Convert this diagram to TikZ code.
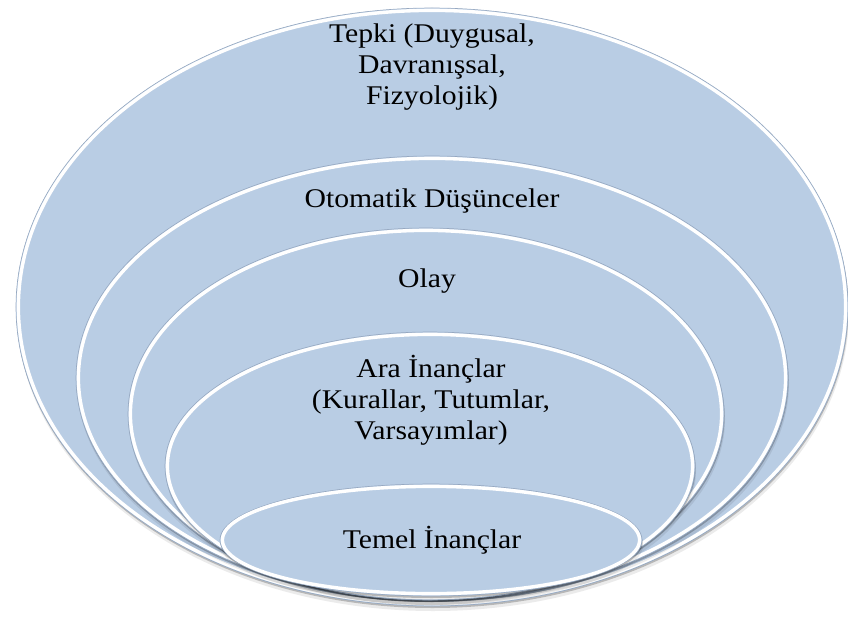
\documentclass[tikz,border=0pt]{standalone}
\usepackage{fontspec}
\newfontfamily\lblfont{Liberation Serif}[FakeStretch=1.1]
\definecolor{lblue}{RGB}{185,205,228}
\definecolor{edgecol}{RGB}{150,168,192}
\newcommand\ringshape[4]{%
  \fill[black,opacity=0.08] (#1+1,#2+5) ellipse [x radius=#3bp, y radius=#4bp];
  \fill[black,opacity=0.22] (#1+0.5,#2+2) ellipse [x radius=#3bp, y radius=#4bp];
  \fill[lblue] (#1,#2) ellipse [x radius=#3bp, y radius=#4bp];
  \draw[edgecol, line width=0.6bp] (#1,#2) ellipse [x radius=#3bp, y radius=#4bp];
  \draw[white, line width=3.4bp] (#1,#2) ellipse [x radius=#3bp-2.4bp, y radius=#4bp-2.4bp];
}
\begin{document}
\begin{tikzpicture}[x=1bp,y=-1bp,
  lbl/.style={font=\lblfont\fontsize{27bp}{31bp}\selectfont, align=center, inner sep=0pt, anchor=base, text=black}]
\useasboundingbox (0,0) rectangle (848,618);
\ringshape{432}{307}{416}{299}
\ringshape{432}{378}{356}{222}
\ringshape{426}{414}{298}{186}
\ringshape{430}{466}{265}{134}
\ringshape{431}{540}{211}{56}
\node[lbl] (tepki) at (432,105) {Tepki (Duygusal,\\Davranışsal,\\Fizyolojik)};
\node[lbl] (otomatik) at (432,208) {Otomatik Düşünceler};
\node[lbl] (olay) at (427,287) {Olay};
\node[lbl] (ara) at (431,439) {Ara İnançlar\\(Kurallar, Tutumlar,\\Varsayımlar)};
\node[lbl] (temel) at (432,548) {Temel İnançlar};
\end{tikzpicture}
\end{document}
